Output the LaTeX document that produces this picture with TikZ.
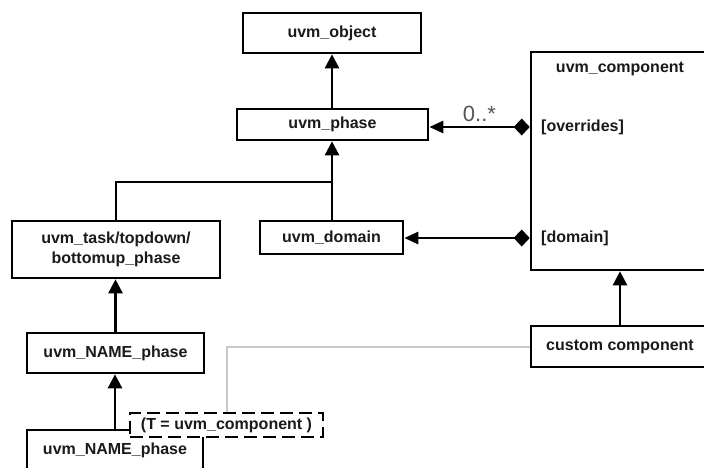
\documentclass[tikz,border=0pt]{standalone}
\usepackage{fontspec}
\setmainfont{Liberation Sans}
\usetikzlibrary{arrows.meta}
\definecolor{ink}{HTML}{1A1A1A}
\definecolor{multgray}{HTML}{555555}
\definecolor{bindgray}{HTML}{C8C8C8}
\begin{document}
\begin{tikzpicture}[x=1pt,y=-1pt]
\tikzset{
  box/.style={draw=black, line width=2.6pt, fill=white, inner sep=0pt,
    font=\fontsize{16}{20}\selectfont\bfseries, text=ink, align=center},
  lbl/.style={inner sep=0pt, font=\fontsize{16}{20}\selectfont\bfseries, text=ink},
  gen/.style={line width=2.6pt, -{Triangle[length=14pt,width=14pt]}},
  plain/.style={line width=2.6pt},
  assoc/.style={line width=2.6pt,
    {Diamond[length=16pt,width=17pt]}-{Triangle[length=14pt,width=12pt]}},
  bind/.style={draw=bindgray, line width=1.6pt},
  param/.style={box, dash pattern=on 13pt off 6pt}
}
\clip (0,0) rectangle (704,467);
\fill[white] (0,0) rectangle (704,467);

% class boxes
\node[box, minimum width=178pt, minimum height=40pt] (obj) at (332,33) {uvm\_object};
\node[box, minimum width=191pt, minimum height=31pt] (phase) at (332.5,124.5) {uvm\_phase};
\node[box, minimum width=178pt, minimum height=218pt] (comp) at (620,161) {};
\node[lbl] (comptitle) at (620,69) {uvm\_component};
\node[lbl, anchor=west] (ovr) at (541,127) {[overrides]};
\node[lbl, anchor=west] (dom) at (541,238) {[domain]};
\node[box, minimum width=208pt, minimum height=57pt] (task) at (116,249.5) {uvm\_task/topdown/\\bottomup\_phase};
\node[box, minimum width=143pt, minimum height=33pt] (domain) at (331.5,237.5) {uvm\_domain};
\node[box, minimum width=177pt, minimum height=40pt] (name1) at (115.5,353) {uvm\_NAME\_phase};
\node[box, minimum width=176pt, minimum height=40pt] (name2) at (115,450) {uvm\_NAME\_phase};
\node[box, minimum width=178pt, minimum height=41pt] (custom) at (620,346.5) {custom component};

% inheritance
\coordinate (join) at (332,182);
\draw[gen] (phase.north -| obj.south) -- (obj.south);
\draw[plain] (task.north) -- (task.north |- join) -- (join);
\draw[plain] (domain.north -| join) -- (join);
\draw[gen] (join) -- (join |- phase.south);
\draw[gen] (name1.north) -- (name1.north |- task.south);
\draw[gen] (name2.north) -- (name2.north |- name1.south);
\draw[gen] (custom.north) -- (custom.north |- comp.south);

% associations
\draw[assoc] (comp.west |- ovr.west) -- (phase.east |- ovr.west)
  node[midway, above=4pt, inner sep=0pt, font=\fontsize{22}{24}\selectfont, text=multgray] (mult) {0..*};
\draw[assoc] (comp.west |- dom.west) -- (domain.east |- dom.west);

% parameter binding
\node[param, minimum width=193pt, minimum height=24pt] (tparam) at (226.5,425) {(T = uvm\_component )};
\coordinate (bend) at (227,347);
\draw[bind] (custom.west |- bend) -- (bend) -- (tparam.north -| bend);
\end{tikzpicture}
\end{document}
